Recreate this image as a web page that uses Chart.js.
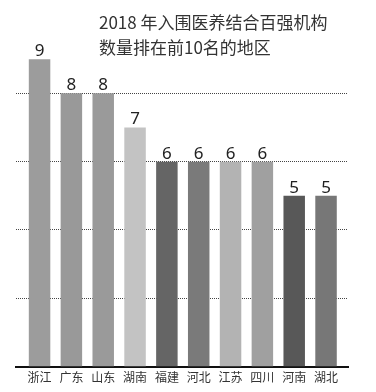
<!DOCTYPE html>
<html>
<head>
<meta charset="utf-8">
<script src="https://cdn.jsdelivr.net/npm/chart.js@4/dist/chart.umd.min.js"></script>
<style>
    html, body { margin: 0; padding: 0; background: #fff; }
    #wrap { position: relative; width: 376px; height: 392px; }
    #title {
        position: absolute; left: 99px; top: 9px;
        font-family: "Noto Sans CJK SC", sans-serif;
        font-size: 17px; line-height: 25px; color: #333;
        white-space: nowrap;
    }
</style>
</head>
<body>
<div id="wrap">
    <canvas id="rankChart" width="376" height="392"></canvas>
    <div id="title">2018 年入围医养结合百强机构<br>数量排在前10名的地区</div>
</div>
<script>
// Regions (x axis)
const regionLabels = ['浙江', '广东', '山东', '湖南', '福建', '河北', '江苏', '四川', '河南', '湖北'];

// Number of institutions in the top 100
const institutionCounts = [9, 8, 8, 7, 6, 6, 6, 6, 5, 5];

// Grey shade per bar
const barColors = ['#9c9c9c', '#999999', '#9a9a9a', '#c3c3c3', '#656565',
                   '#7a7a7a', '#b3b3b3', '#a0a0a0', '#585858', '#777777'];

// Dotted guide lines
const gridValues = [2, 4, 6, 8];

document.addEventListener("DOMContentLoaded", function () {
    const ctx = document.getElementById("rankChart").getContext("2d");

    // Numbers on top of the bars
    const valueLabels = {
        id: 'valueLabels',
        afterDatasetsDraw(chart) {
            const c = chart.ctx;
            const meta = chart.getDatasetMeta(0);
            c.save();
            c.font = '17px "Noto Sans", sans-serif';
            c.fillStyle = '#222';
            c.textAlign = 'center';
            c.textBaseline = 'alphabetic';
            meta.data.forEach((bar, i) => {
                c.fillText(String(institutionCounts[i]), bar.x, bar.y - 3);
            });
            c.restore();
        }
    };

    new Chart(ctx, {
        type: 'bar',
        data: {
            datasets: [{
                data: institutionCounts.map((v, i) => ({ x: i, y: v })),
                backgroundColor: barColors,
                borderWidth: 0,
                categoryPercentage: 1,
                barPercentage: 0.675
            }]
        },
        options: {
            responsive: false,
            animation: false,
            layout: { padding: { left: 16, right: 28, top: 25, bottom: 3 } },
            plugins: {
                legend: { display: false },
                tooltip: { enabled: false }
            },
            scales: {
                x: {
                    type: 'linear',
                    offset: false,
                    min: -0.74,
                    max: 9.69,
                    afterBuildTicks: (scale) => {
                        scale.ticks = regionLabels.map((_, i) => ({ value: i }));
                    },
                    grid: { display: false, drawTicks: false },
                    border: { display: true, color: '#111', width: 2 },
                    ticks: {
                        autoSkip: false,
                        maxRotation: 0,
                        padding: 4,
                        color: '#333',
                        font: { family: '"Noto Sans CJK SC", sans-serif', size: 12 },
                        callback: (v) => regionLabels[v] || ''
                    }
                },
                y: {
                    min: 0,
                    max: 10,
                    afterBuildTicks: (scale) => {
                        scale.ticks = gridValues.map(v => ({ value: v }));
                    },
                    ticks: { display: false },
                    border: { display: false, dash: [1, 1] },
                    grid: {
                        drawTicks: false,
                        color: '#444',
                        lineWidth: 1
                    }
                }
            }
        },
        plugins: [valueLabels]
    });
});
</script>
</body>
</html>
